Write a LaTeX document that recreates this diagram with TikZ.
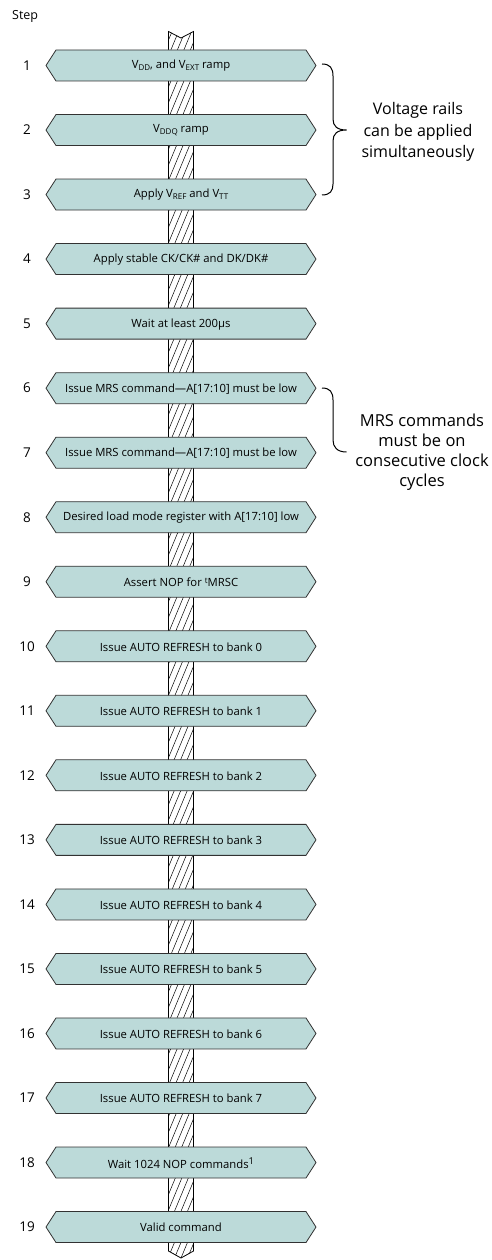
\documentclass[tikz,border=0pt]{standalone}
\usepackage{fontspec}
\setmainfont{Open Sans}
\definecolor{boxfill}{RGB}{188,218,217}
\definecolor{boxline}{RGB}{50,50,50}
\newcommand{\lo}[1]{\raisebox{-2pt}{\fontsize{8}{8}\selectfont #1}}
\newcommand{\hi}[1]{\raisebox{3.6pt}{\fontsize{8}{8}\selectfont #1}}
\newcommand{\fnmark}[1]{\raisebox{4.2pt}{\fontsize{9.5}{9.5}\selectfont #1}}
\begin{document}
\begin{tikzpicture}[x=1pt,y=-1pt,
  boxshape/.style={fill=boxfill,draw=boxline,line width=0.8pt},
  boxtext/.style={font=\fontsize{11.3}{13}\selectfont,inner sep=0pt},
  numtext/.style={font=\fontsize{13.5}{15}\selectfont,inner sep=0pt},
  notetext/.style={font=\fontsize{16}{21.5}\selectfont,align=center,inner sep=0pt},
  bracepath/.style={draw=black,line width=1pt},
  shaftline/.style={draw=black,line width=0.8pt},
  hatchline/.style={draw=black,line width=0.5pt}]
\useasboundingbox (0,0) rectangle (491,1260);
\node[font=\fontsize{12.5}{14}\selectfont,anchor=west,inner sep=0pt] (steplabel) at (12,16) {Step};
% shaft
\coordinate (shafttop) at (181,38);
\coordinate (shaftbot) at (181,1258);
\path[fill=white] (168.5,31.5) -- (shafttop) -- (193.5,31.5) -- (193.5,1251) -- (shaftbot) -- (168.5,1251) -- cycle;
\begin{scope}
\clip (168.5,31.5) -- (shafttop) -- (193.5,31.5) -- (193.5,1251) -- (shaftbot) -- (168.5,1251) -- cycle;
\foreach \k in {0,...,82} {
  \pgfmathsetmacro\yy{40+\k*15.6}
  \draw[hatchline] (168.5,\yy) -- (193.5,\yy-60);
}
\end{scope}
\draw[shaftline] (168.5,31.5) -- (shafttop) -- (193.5,31.5) -- (193.5,1251) -- (shaftbot) -- (168.5,1251) -- cycle;
% boxes
\foreach \i/\t in {
 1/{V\lo{DD}, and V\lo{EXT} ramp},
 2/{V\lo{DDQ} ramp},
 3/{Apply V\lo{REF} and V\lo{TT}},
 4/{Apply stable CK/CK\# and DK/DK\#},
 5/{Wait at least 200µs},
 6/{Issue MRS command—A[17:10] must be low},
 7/{Issue MRS command—A[17:10] must be low},
 8/{Desired load mode register with A[17:10] low},
 9/{Assert NOP for \hi{t}MRSC},
 10/{Issue AUTO REFRESH to bank 0},
 11/{Issue AUTO REFRESH to bank 1},
 12/{Issue AUTO REFRESH to bank 2},
 13/{Issue AUTO REFRESH to bank 3},
 14/{Issue AUTO REFRESH to bank 4},
 15/{Issue AUTO REFRESH to bank 5},
 16/{Issue AUTO REFRESH to bank 6},
 17/{Issue AUTO REFRESH to bank 7},
 18/{Wait 1024 NOP commands\fnmark{1}},
 19/{Valid command}} {
  \pgfmathsetmacro\yc{65.5+(\i-1)*64.53}
  \begin{scope}[shift={(0,\yc)}]
    \draw[boxshape] (46,0) -- (56,-15.5) -- (306,-15.5) -- (316,0) -- (306,15.5) -- (56,15.5) -- cycle;
    \node[boxtext] (box\i) at (181,0.5) {\t};
    \node[numtext] (num\i) at (27,0) {\i};
  \end{scope}
}
% brace 1
\draw[bracepath] (322,64) .. controls (330,64) and (333,68) .. (333,76) -- (333,119) .. controls (333,126) and (337,130) .. (346.5,130) .. controls (337,130) and (333,134) .. (333,141) -- (333,184) .. controls (333,191) and (330,195) .. (322,195);
\node[notetext] (note1) at (418,132) {Voltage rails\\can be applied\\simultaneously};
% brace 2
\draw[bracepath] (322,388) .. controls (330,388) and (333,392) .. (333,400) -- (333,440) .. controls (333,447) and (337,452) .. (346.5,452);
\node[notetext,font=\fontsize{16.5}{20}\selectfont] (note2) at (422,452.5) {MRS commands\\must be on\\consecutive clock\\cycles};
\end{tikzpicture}
\end{document}
